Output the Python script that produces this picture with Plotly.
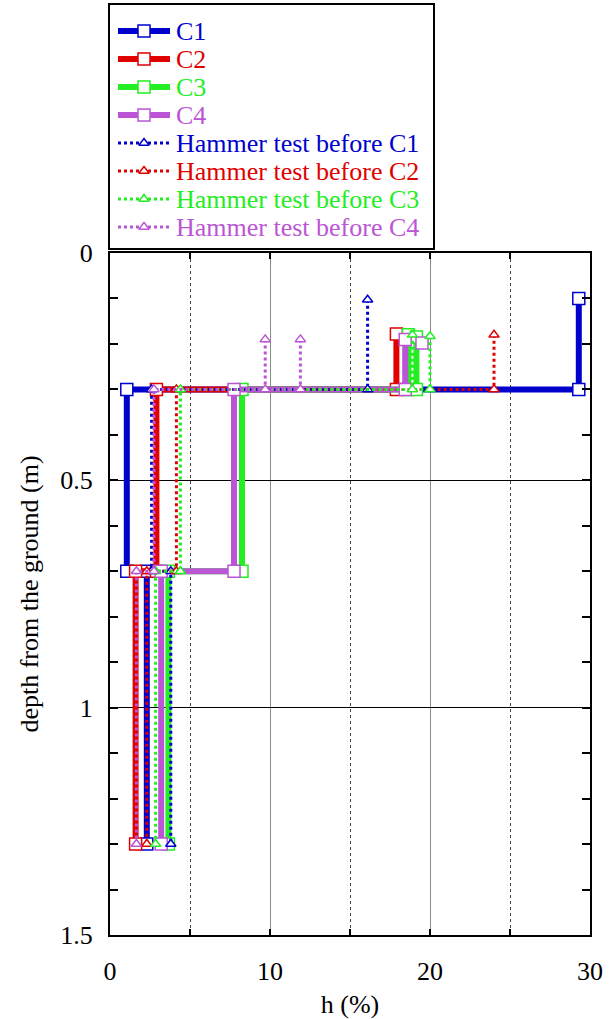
import plotly.graph_objects as go

# ---- data: h (%) and depth (m) along each profile; None splits unconnected pieces
c1_h = [29.3, 29.3, 1.05, 1.05, 2.3, 2.3]
c1_d = [0.10, 0.30, 0.30, 0.70, 0.70, 1.30]
c2_h = [17.9, 17.9, 2.9, 2.9, 1.6, 1.6]
c2_d = [0.178, 0.30, 0.30, 0.70, 0.70, 1.30]
c3_h = [18.65, 18.65, None, 19.15, 19.15, 8.25, 8.25, 3.65, 3.65]
c3_d = [0.18, 0.30, None, 0.185, 0.30, 0.30, 0.70, 0.70, 1.30]
c4_h = [19.5, None, 18.45, 18.45, 7.75, 7.75, 3.2, 3.2]
c4_d = [0.198, None, 0.19, 0.30, 0.30, 0.70, 0.70, 1.30]
h1_h = [16.1, 16.1, 2.6, 2.6, 3.8, 3.8]
h1_d = [0.103, 0.30, 0.30, 0.70, 0.70, 1.30]
h2_h = [24.0, 24.0, 4.15, 4.15, 2.3, 2.3]
h2_d = [0.18, 0.30, 0.30, 0.70, 0.70, 1.30]
h3_h = [18.9, 18.9, None, 20.0, 20.0, 4.4, 4.4, 2.85, 2.85]
h3_d = [0.18, 0.30, None, 0.183, 0.30, 0.30, 0.70, 0.70, 1.30]
h4_h = [9.7, 9.7, None, 11.9, 11.9, 2.75, 2.75, 1.65, 1.65]
h4_d = [0.19, 0.30, None, 0.19, 0.30, 0.30, 0.70, 0.70, 1.30]

names = ["C1", "C2", "C3", "C4",
         "Hammer test before C1", "Hammer test before C2",
         "Hammer test before C3", "Hammer test before C4"]

x_ticks = [0, 10, 20, 30]
y_ticks = [0, 0.5, 1, 1.5]
y_ticktext = ["0", "0.5", "1", "1.5"]

# ---- styles
BLUE, RED, GREEN, PURPLE = "#0000cd", "#e00000", "#22ee22", "#bb55d6"
colors = [BLUE, RED, GREEN, PURPLE, BLUE, RED, GREEN, PURPLE]
FONT = "Liberation Serif"
FS = 26
TFONT = dict(family=FONT, size=FS, color="black")

series = [(c1_h, c1_d), (c2_h, c2_d), (c3_h, c3_d), (c4_h, c4_d),
          (h1_h, h1_d), (h2_h, h2_d), (h3_h, h3_d), (h4_h, h4_d)]

fig = go.Figure()

for i, ((hx, dy), name, col) in enumerate(zip(series, names, colors)):
    thick = i < 4
    fig.add_trace(go.Scatter(
        x=hx, y=dy, name=name, mode="lines+markers",
        line=dict(color=col, width=6 if thick else 3,
                  dash="solid" if thick else "dot"),
        marker=dict(symbol="square" if thick else "triangle-up",
                    size=12 if thick else 9, color="white",
                    line=dict(color=col, width=1.5)),
        connectgaps=False, cliponaxis=False,
        xaxis="x", yaxis="y", showlegend=False))

# ---- hand-drawn key box (own axes, pixel-like units)
key_w, key_h = 323, 243
row0, row_step = 26, 28.0
for i, (name, col) in enumerate(zip(names, colors)):
    thick = i < 4
    yy = row0 + i * row_step
    fig.add_trace(go.Scatter(
        x=[8, 60], y=[yy, yy], mode="lines",
        line=dict(color=col, width=6 if thick else 3,
                  dash="solid" if thick else "dot"),
        xaxis="x2", yaxis="y2", showlegend=False, hoverinfo="skip"))
    fig.add_trace(go.Scatter(
        x=[34], y=[yy], mode="markers",
        marker=dict(symbol="square" if thick else "triangle-up",
                    size=12 if thick else 9, color="white",
                    line=dict(color=col, width=1.5)),
        xaxis="x2", yaxis="y2", showlegend=False, hoverinfo="skip"))
    fig.add_annotation(x=64, y=yy, xref="x2", yref="y2", text=name,
                       showarrow=False, xanchor="left", yanchor="middle",
                       font=dict(family=FONT, size=FS, color=col))

plot_top = 682 / 930
fig.update_layout(
    width=614, height=1019,
    margin=dict(l=110, r=24, t=5, b=84, autoexpand=False),
    paper_bgcolor="white", plot_bgcolor="white",
    font=TFONT,
    showlegend=False,
    xaxis=dict(domain=[0, 1], anchor="y", range=[0, 30], automargin=False,
               tickvals=x_ticks, ticks="inside", ticklen=6, tickwidth=1.5,
               tickcolor="black", showline=True, linewidth=2, linecolor="black",
               mirror="allticks", showgrid=True, gridcolor="#8a8a8a", gridwidth=1,
               zeroline=False, ticklabelstandoff=12, tickfont=TFONT,
               minor=dict(dtick=5, tick0=0, ticks="inside", ticklen=6, tickwidth=1.5,
                          tickcolor="black", showgrid=True, gridcolor="#444444",
                          griddash="dot", gridwidth=1),
               title=dict(text="h (%)", standoff=10, font=TFONT)),
    yaxis=dict(domain=[0, plot_top], anchor="x", range=[1.5, 0], automargin=False,
               tickvals=y_ticks, ticktext=y_ticktext,
               ticks="inside", ticklen=8, tickwidth=1.5,
               tickcolor="black", showline=True, linewidth=2, linecolor="black",
               mirror="allticks", showgrid=True, gridcolor="black", gridwidth=1,
               zeroline=False, ticklabelstandoff=10, tickfont=TFONT,
               minor=dict(dtick=0.1, tick0=0, ticks="inside", ticklen=8, tickwidth=1.5,
                          tickcolor="black", showgrid=False),
               title=dict(text="depth from the ground (m)", standoff=14,
                          font=TFONT)),
    xaxis2=dict(domain=[0, key_w / 480], anchor="y2", range=[0, key_w],
                automargin=False,
                showgrid=False, zeroline=False, showticklabels=False, ticks="",
                showline=True, mirror=True, linewidth=2, linecolor="black"),
    yaxis2=dict(domain=[(935 - 248) / 930, 1], anchor="x2",
                range=[key_h, 0], showgrid=False, zeroline=False,
                automargin=False,
                showticklabels=False, ticks="",
                showline=True, mirror=True, linewidth=2, linecolor="black"),
)

fig.write_html("out.html")
